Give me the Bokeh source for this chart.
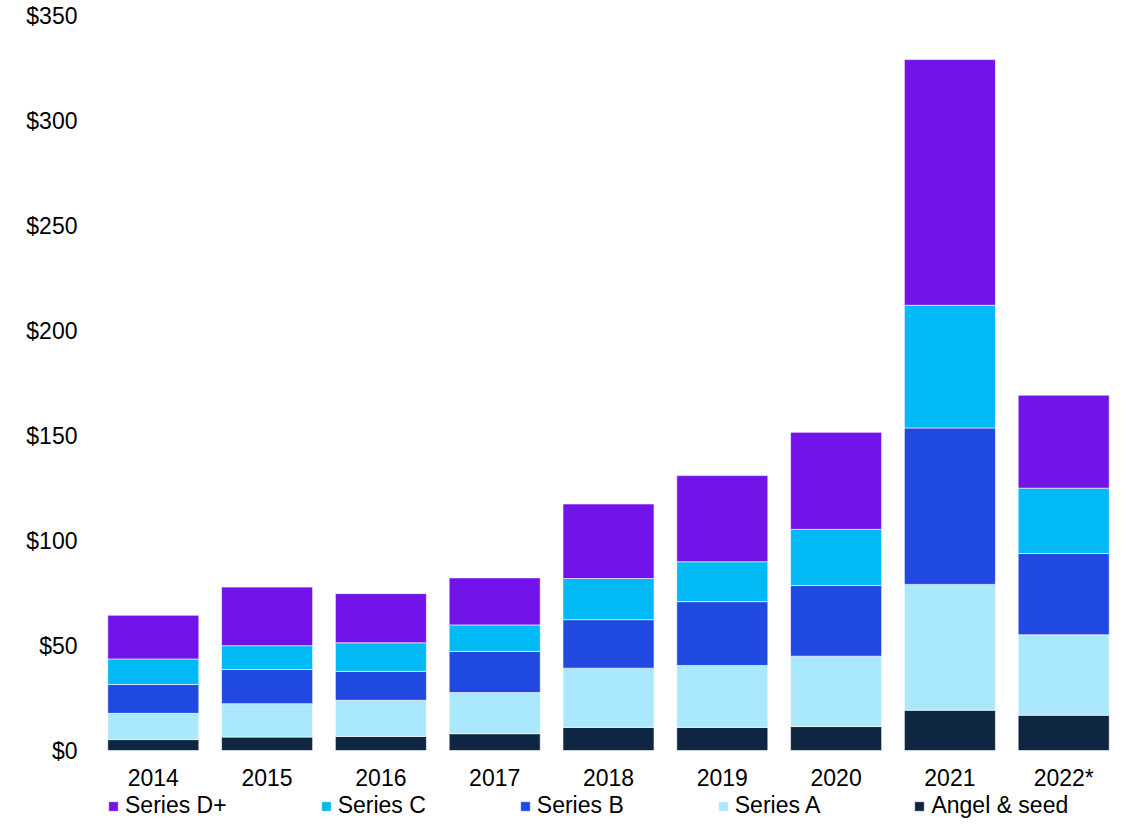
from bokeh.plotting import figure
from bokeh.models import (FactorRange, Range1d, Legend, LegendItem, ColumnDataSource,
                          NumeralTickFormatter, FixedTicker)
from bokeh.embed import file_html
from bokeh.resources import INLINE

years = ["2014", "2015", "2016", "2017", "2018", "2019", "2020", "2021", "2022*"]
angel_seed = [5.2, 6.4, 6.7, 8.0, 11.0, 11.0, 11.4, 19.2, 16.8]
series_a = [12.5, 15.9, 17.2, 19.6, 28.2, 29.5, 33.5, 59.9, 38.3]
series_b = [13.7, 16.3, 13.8, 19.6, 23.1, 30.4, 33.7, 74.5, 38.7]
series_c = [12.2, 11.3, 13.6, 12.6, 19.6, 19.0, 26.7, 58.4, 31.1]
series_d = [20.8, 27.9, 23.4, 22.4, 35.5, 41.0, 46.2, 117.0, 44.3]
y_ticks = [0, 50, 100, 150, 200, 250, 300, 350]

stack_keys = ["angel", "a", "b", "c", "d"]
stack_labels = ["Angel & seed", "Series A", "Series B", "Series C", "Series D+"]
stack_colors = ["#0E2641", "#AAE9FD", "#1F49E0", "#00B9F5", "#7214E9"]

source = ColumnDataSource(dict(year=years, angel=angel_seed, a=series_a,
                               b=series_b, c=series_c, d=series_d))

FONT = "Liberation Sans"
FS = "23px"

# layout (pixels)
W, H = 1111, 819
TOP = 15          # frame top ($350)
ZERO = 750        # pixel row of $0
px_per_unit = (ZERO - TOP) / 350
y_start = -(H - ZERO) / px_per_unit   # room below $0 for year labels and legend

p = figure(x_range=FactorRange(*years, range_padding=-0.08, range_padding_units="absolute"),
           y_range=Range1d(y_start, 350),
           width=W, height=H, output_backend="svg", toolbar_location=None,
           min_border_left=105, min_border_right=0, min_border_top=TOP, min_border_bottom=0)

renderers = p.vbar_stack(stack_keys, x="year", width=0.8, color=stack_colors,
                         source=source, line_color="white", line_width=0.6)

p.outline_line_color = None
p.xgrid.grid_line_color = None
p.ygrid.grid_line_color = None

p.yaxis.ticker = FixedTicker(ticks=y_ticks)
p.yaxis.formatter = NumeralTickFormatter(format="$0")
p.xaxis.fixed_location = 0
for ax in (p.xaxis, p.yaxis):
    ax.axis_line_color = None
    ax.major_tick_line_color = None
    ax.minor_tick_line_color = None
    ax.major_tick_out = 0
    ax.major_tick_in = 0
    ax.major_label_text_font = FONT
    ax.major_label_text_font_size = FS
    ax.major_label_text_color = "#000000"
p.yaxis.major_label_standoff = 28
p.xaxis.major_label_standoff = 14

items = [LegendItem(label=lab, renderers=[r]) for lab, r in zip(stack_labels, renderers)]
items = items[::-1]
legend = Legend(items=items, orientation="horizontal", location=(2, 0),
                glyph_width=12, glyph_height=12, label_standoff=6,
                spacing=93, padding=0, margin=0, border_line_color=None,
                background_fill_alpha=0,
                label_text_font=FONT, label_text_font_size=FS, label_text_color="#000000")
p.add_layout(legend, "center")

open("out.html", "w").write(file_html(p, INLINE))
